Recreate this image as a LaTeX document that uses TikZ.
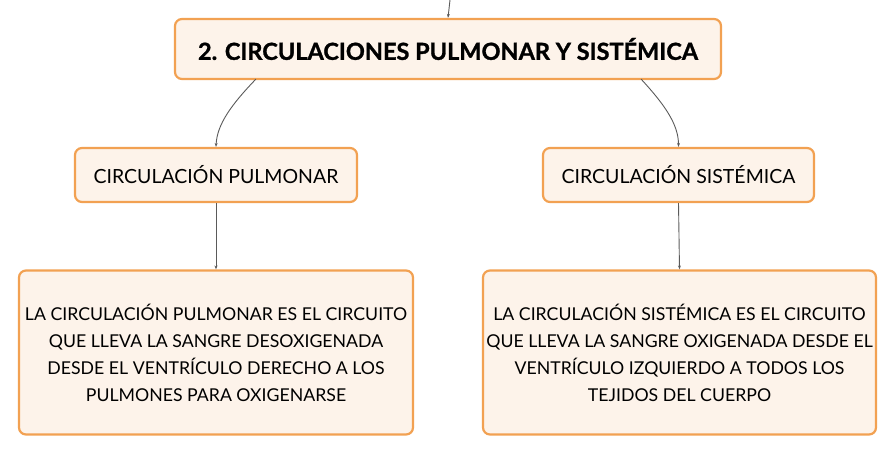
\documentclass[tikz,border=0pt]{standalone}
\usepackage{fontspec}
\setmainfont{Lato}
\usetikzlibrary{arrows.meta}
\definecolor{boxedge}{HTML}{F2A152}
\definecolor{boxfill}{HTML}{FDF3EA}
\definecolor{linkgray}{HTML}{5A5A5A}
\tikzset{
  cbox/.style={draw=boxedge, fill=boxfill, line width=2.2pt, rounded corners=7pt, inner sep=0pt, align=center, text=black},
  link/.style={draw=linkgray, line width=0.9pt, -{Stealth[length=4pt,width=3pt]}}
}
\begin{document}
\begin{tikzpicture}[x=1pt,y=-1pt]
\useasboundingbox (0,0) rectangle (896,455);
\node[cbox, minimum width=546pt, minimum height=60pt, font=\fontsize{23.5}{28}\selectfont\bfseries\addfontfeatures{FakeBold=1.2}] (title) at (448,49) {2. CIRCULACIONES PULMONAR Y SISTÉMICA};
\node[cbox, minimum width=282pt, minimum height=54pt, font=\fontsize{19.5}{23}\selectfont] (pulm) at (216,175) {CIRCULACIÓN PULMONAR};
\node[cbox, minimum width=271pt, minimum height=54pt, font=\fontsize{19.5}{23}\selectfont] (sist) at (678.5,175) {CIRCULACIÓN SISTÉMICA};
\node[cbox, minimum width=394pt, minimum height=164pt, font=\fontsize{17.7}{27}\selectfont] (desc1) at (216,352.5) {LA CIRCULACIÓN PULMONAR ES EL CIRCUITO\\QUE LLEVA LA SANGRE DESOXIGENADA\\DESDE EL VENTRÍCULO DERECHO A LOS\\PULMONES PARA OXIGENARSE};
\node[cbox, minimum width=393pt, minimum height=164pt, font=\fontsize{17.7}{27}\selectfont] (desc2) at (679.5,352.5) {LA CIRCULACIÓN SISTÉMICA ES EL CIRCUITO\\QUE LLEVA LA SANGRE OXIGENADA DESDE EL\\VENTRÍCULO IZQUIERDO A TODOS LOS\\TEJIDOS DEL CUERPO};
\coordinate (top) at (450,0);
\draw[link] (top) -- (title.north);
\draw[link] ([xshift=82pt,yshift=1pt]title.south west) .. controls (232,104) and (217,124) .. (pulm.north);
\draw[link] ([xshift=-81pt,yshift=1pt]title.south east) .. controls (664,104) and (678.5,124) .. (sist.north);
\draw[link] (pulm.south) -- (desc1.north);
\draw[link] (sist.south) -- (desc2.north);
\end{tikzpicture}
\end{document}
